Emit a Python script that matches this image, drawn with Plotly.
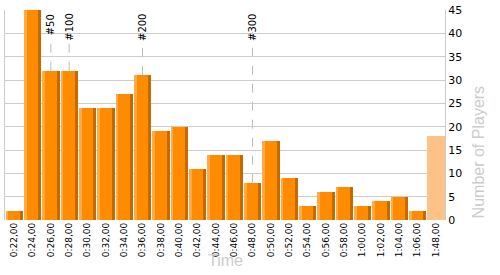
import plotly.graph_objects as go

categories = ["0:22,00", "0:24,00", "0:26,00", "0:28,00", "0:30,00", "0:32,00",
              "0:34,00", "0:36,00", "0:38,00", "0:40,00", "0:42,00", "0:44,00",
              "0:46,00", "0:48,00", "0:50,00", "0:52,00", "0:54,00", "0:56,00",
              "0:58,00", "1:00,00", "1:02,00", "1:04,00", "1:06,00", "1:08,00",
              "1:48,00"]
players = [2, 45, 32, 32, 24, 24, 27, 31, 19, 20, 11, 14, 14, 8, 17, 9, 3, 6,
           7, 3, 4, 5, 2, 18]
categories = categories[:23] + [categories[24]]

marker_labels = ["#50", "#100", "#200", "#300"]
marker_cats = ["0:26,00", "0:28,00", "0:36,00", "0:48,00"]

idx = list(range(len(categories)))
n = len(categories)
main_vals = players[:-1] + [None]
last_vals = [None] * (n - 1) + [players[-1]]

W = 0.95
OFF = -0.47
S = 0.16

fig = go.Figure()
fig.add_trace(go.Bar(x=idx, y=main_vals, width=W, offset=OFF,
                     marker=dict(color="#FF8C00", line=dict(width=0)),
                     showlegend=False, hoverinfo="y"))
fig.add_trace(go.Bar(x=idx, y=main_vals, width=S, offset=OFF,
                     marker=dict(color="#FFAA44", line=dict(width=0)),
                     showlegend=False, hoverinfo="skip"))
fig.add_trace(go.Bar(x=idx, y=main_vals, width=S, offset=OFF + W - S,
                     marker=dict(color="#C46A00", line=dict(width=0)),
                     showlegend=False, hoverinfo="skip"))
fig.add_trace(go.Bar(x=idx, y=last_vals, width=1.0, offset=-0.5,
                     marker=dict(color="#FFC286", line=dict(width=0)),
                     showlegend=False, hoverinfo="y"))

for lab, cat in zip(marker_labels, marker_cats):
    i = categories.index(cat)
    fig.add_shape(type="line", x0=i, x1=i, y0=players[i], y1=40.2,
                  xref="x", yref="y", layer="below",
                  line=dict(color="#BBBBBB", width=1, dash="dash"))
    fig.add_annotation(x=i, y=45, xref="x", yref="y", text=lab,
                       textangle=-90, showarrow=False, yanchor="top",
                       yshift=-2,
                       font=dict(family="DejaVu Sans, Verdana", size=10, color="#000"))

fig.add_annotation(x=0.5, y=-0.195, xref="paper", yref="paper", text="Time",
                   showarrow=False, xanchor="center", yanchor="middle",
                   font=dict(family="Liberation Sans, Arial", size=16, color="#CCCCCC"))
fig.add_annotation(x=1.077, y=0, xref="paper", yref="paper", text="Number of Players",
                   showarrow=False, textangle=-90, xanchor="center", yanchor="bottom",
                   font=dict(family="Liberation Sans, Arial", size=16, color="#CCCCCC"))

fig.update_layout(
    width=500, height=275,
    margin=dict(l=5, r=55, t=10, b=55, autoexpand=False),
    paper_bgcolor="white", plot_bgcolor="white",
    barmode="overlay", bargap=0,
    font=dict(family="DejaVu Sans, Verdana", color="#000"),
    xaxis=dict(range=[-0.5, n - 0.5], tickmode="array", tickvals=idx,
               ticktext=categories, tickangle=-90, showgrid=False,
               zeroline=False, showline=False, ticks="", ticklen=0,
               automargin=False,
               tickfont=dict(size=9, family="DejaVu Sans, Verdana", color="#000")),
    yaxis=dict(side="right", range=[0, 45], dtick=5, showgrid=True,
               gridcolor="#CCCCCC", gridwidth=1, zeroline=False,
               showline=True, linecolor="#CCCCCC", linewidth=1, mirror=True,
               ticks="", automargin=False,
               tickfont=dict(size=11, family="DejaVu Sans, Verdana", color="#000")),
)

fig.write_html("out.html")
